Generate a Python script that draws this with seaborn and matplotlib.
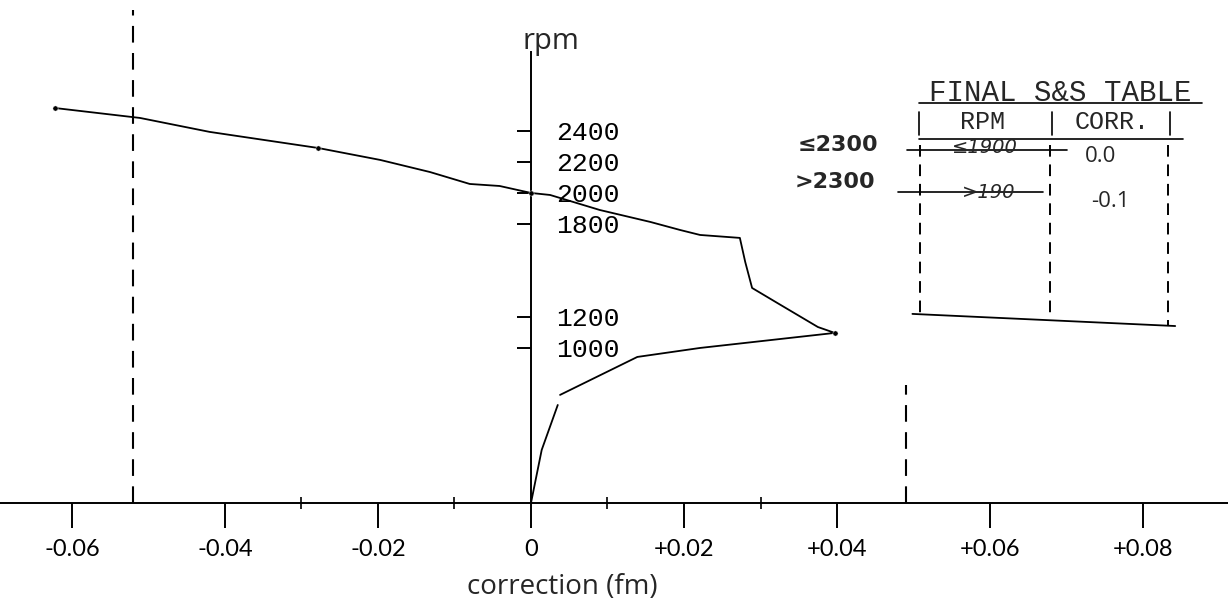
import numpy as np
import pandas as pd
import seaborn as sns
import matplotlib.pyplot as plt

# traced correction curve (fm) vs rpm
corr_main = [-0.0622, -0.0511, -0.0420, -0.0278, -0.0197, -0.0132, -0.0080, -0.0041, 0.0,
             0.0025, 0.0090, 0.0156, 0.0195, 0.0221, 0.0273, 0.0280, 0.0289, 0.0322,
             0.0375, 0.0397, 0.0221, 0.0139, 0.0038]
rpm_main = [2548, 2484, 2394, 2290, 2213, 2135, 2058, 2045, 2000,
            1987, 1890, 1813, 1761, 1729, 1710, 1555, 1387, 1290,
            1135, 1097, 1000, 942, 697]
corr_low = [0.0035, 0.0014, 0.0]
rpm_low = [632, 342, 0]
dot_corr = [-0.0622, -0.0278, 0.0, 0.0397]
dot_rpm = [2548, 2290, 2000, 1097]

x_ticks = [-0.06, -0.04, -0.02, 0.0, 0.02, 0.04, 0.06, 0.08]
x_labels = ['-0.06', '-0.04', '-0.02', '0', '+0.02', '+0.04', '+0.06', '+0.08']
x_minor = [-0.03, -0.01, 0.01, 0.03]
y_ticks = [1000, 1200, 1800, 2000, 2200, 2400]
y_labels = ['1000', '1200', '1800', '2000', '2200', '2400']
guide_corr = [-0.052, 0.049]
guide_top = [3180, 760]

sns.set_theme(style='white')
plt.rcParams['font.family'] = ['DejaVu Sans']

fig = plt.figure(figsize=(12.28, 6.06), dpi=100)
ax = fig.add_axes([0, 0, 1, 1])

main = pd.DataFrame({'corr': corr_main, 'rpm': rpm_main})
low = pd.DataFrame({'corr': corr_low, 'rpm': rpm_low})
sns.lineplot(data=main, x='corr', y='rpm', sort=False, estimator=None, color='black',
             lw=1.3, ax=ax)
sns.lineplot(data=low, x='corr', y='rpm', sort=False, estimator=None, color='black',
             lw=1.3, ax=ax)
sns.scatterplot(x=dot_corr, y=dot_rpm, color='black', s=14, ax=ax, zorder=3)

for gx, gt in zip(guide_corr, guide_top):
    ax.vlines(gx, 0, gt, colors='black', lw=1.5, linestyles=(0, (8, 5)))

ax.set_xlim(-0.0694, 0.0911)
ax.set_ylim(-665, 3245)
ax.set_xlabel('')
ax.set_ylabel('')

for side in ['left', 'bottom', 'right']:
    ax.spines[side].set_position(('data', 0))
ax.spines['top'].set_visible(False)
ax.spines['right'].set_visible(False)
ax.spines['left'].set_bounds(0, 2910)
for side in ['left', 'bottom']:
    ax.spines[side].set_color('black')
    ax.spines[side].set_linewidth(1.4)

ax.set_xticks(x_ticks)
ax.set_xticklabels(x_labels, fontfamily='Lato', fontsize=17)
ax.set_xticks(x_minor, minor=True)
ax.tick_params(axis='x', which='major', direction='out', length=18, width=1.4,
               pad=8, colors='black', bottom=True)
ax.tick_params(axis='x', which='minor', direction='inout', length=9, width=1.2,
               colors='black', bottom=True)

ax.set_yticks(y_ticks)
ax.set_yticklabels(y_labels, fontfamily='Liberation Mono', fontsize=19)
ax.tick_params(axis='y', which='major', direction='out', length=10, width=1.4,
               colors='black', left=True, right=False, labelleft=False,
               labelright=True, pad=8)

fig.text(0.449, 0.931, 'rpm', fontsize=21, fontfamily='Open Sans', ha='center', va='center')
fig.text(0.458, 0.032, 'correction (fm)', fontsize=20, fontfamily='Open Sans',
         ha='center', va='center')

# hand-drawn S&S table
tf = fig.transFigure
mono = 'Liberation Mono'
fig.text(0.863, 0.847, 'FINAL S&S TABLE', fontsize=21, fontfamily=mono, ha='center', va='center')
ax.plot([0.748, 0.979], [0.830, 0.830], transform=tf, color='black', lw=1.2, clip_on=False)
fig.text(0.800, 0.799, 'RPM', fontsize=18, fontfamily=mono, ha='center', va='center')
fig.text(0.906, 0.799, 'CORR.', fontsize=18, fontfamily=mono, ha='center', va='center')
for hx in [0.748, 0.857, 0.953]:
    ax.plot([hx, hx], [0.815, 0.777], transform=tf, color='black', lw=1.2, clip_on=False)
ax.plot([0.748, 0.963], [0.771, 0.771], transform=tf, color='black', lw=1.2, clip_on=False)
for cx, cb in zip([0.749, 0.855, 0.951], [0.478, 0.470, 0.462]):
    ax.plot([cx, cx], [0.761, cb], transform=tf, color='black', lw=1.4,
            ls=(0, (6, 4)), clip_on=False)
ax.plot([0.743, 0.957], [0.482, 0.462], transform=tf, color='black', lw=1.3, clip_on=False)

fig.text(0.682, 0.761, '≤2300', fontsize=16, fontweight='bold', ha='center', va='center')
fig.text(0.680, 0.700, '>2300', fontsize=16, fontweight='bold', ha='center', va='center')
fig.text(0.802, 0.756, '≤1900', fontsize=14, fontstyle='italic', ha='center', va='center')
ax.plot([0.739, 0.869], [0.752, 0.752], transform=tf, color='black', lw=1.2, clip_on=False)
fig.text(0.805, 0.683, '>190', fontsize=14, fontstyle='italic', ha='center', va='center')
ax.plot([0.731, 0.849], [0.683, 0.683], transform=tf, color='black', lw=1.2, clip_on=False)
fig.text(0.896, 0.741, '0.0', fontsize=16, fontfamily='Open Sans', ha='center', va='center')
fig.text(0.904, 0.667, '-0.1', fontsize=16, fontfamily='Open Sans', ha='center', va='center')

fig.savefig('out.png', dpi=100, facecolor='white')
